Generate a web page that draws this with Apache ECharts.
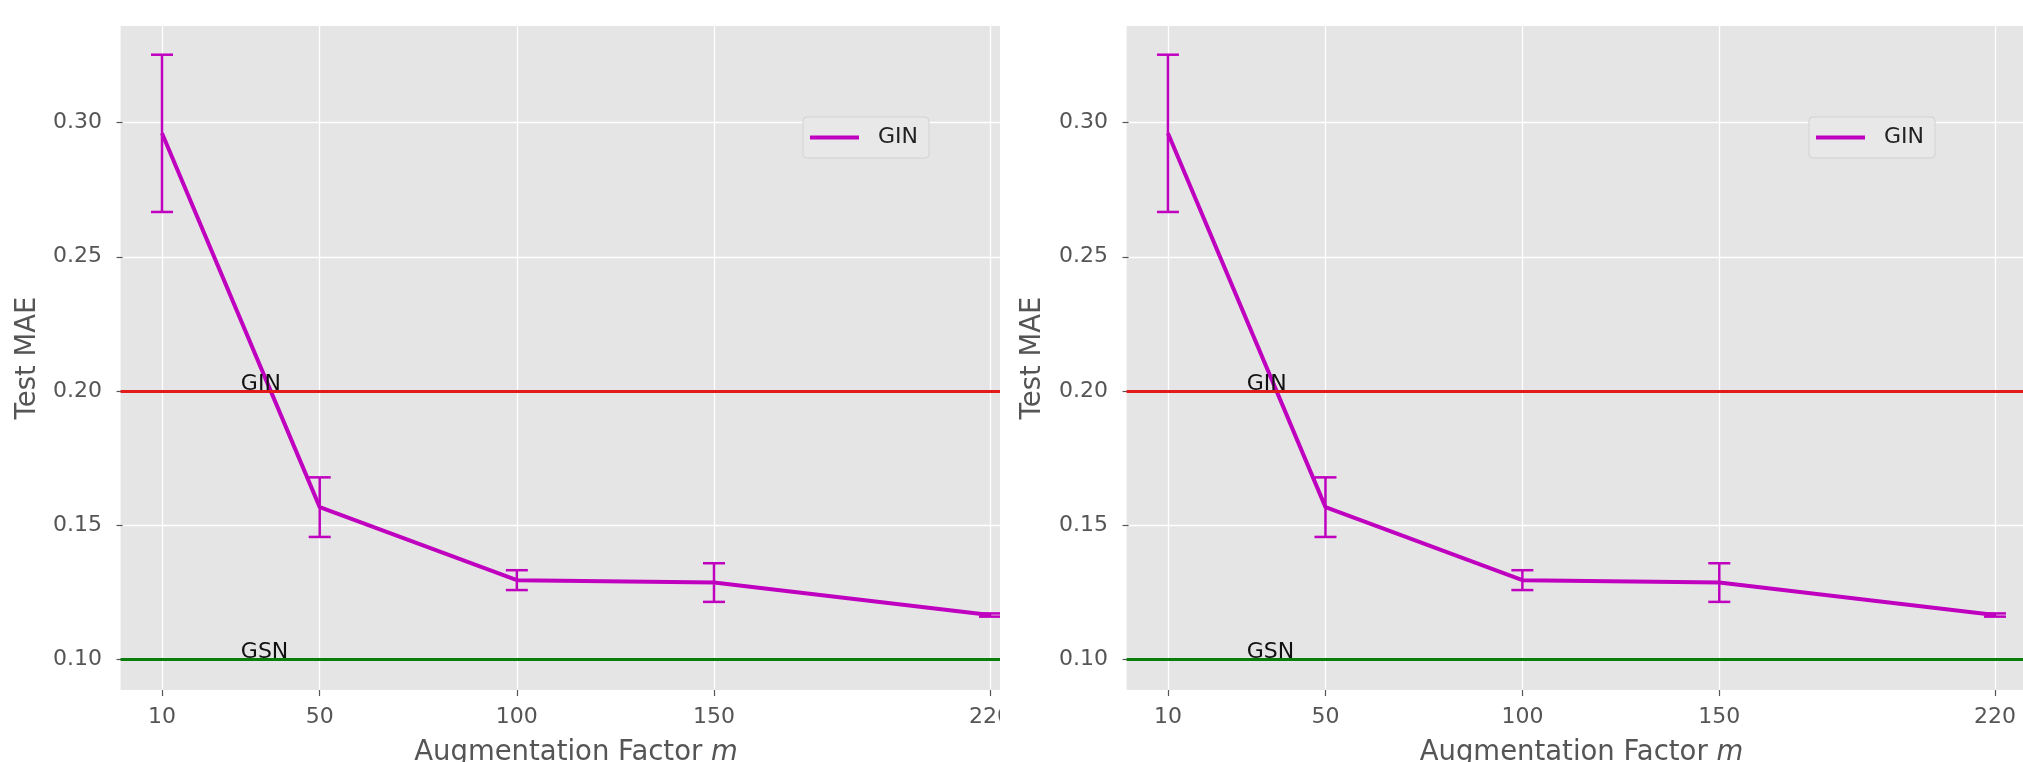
<!DOCTYPE html>
<html>
<head>
<meta charset="utf-8">
<script src="https://cdn.jsdelivr.net/npm/echarts@6/dist/echarts.min.js"></script>
<style>
html,body{margin:0;padding:0;background:#fff;}
#chart{width:2023px;height:762px;}
</style>
</head>
<body>
<div id="chart"></div>
<script>
// ---- data ----
const mValues = [10, 50, 100, 150, 220];
const maeMean = [0.296, 0.1567, 0.1295, 0.1286, 0.1165];
const maeErr = [0.0293, 0.0111, 0.0037, 0.0072, 0.0006];
const xTicks = [10, 50, 100, 150, 220];
const yTicks = [0.10, 0.15, 0.20, 0.25, 0.30];
const refNames = ['GIN', 'GSN'];
const refValues = [0.20, 0.10];
const refLabelX = [30, 30];
const seriesName = 'GIN';
const xTitle = 'Augmentation Factor {i|m}';
const yTitle = 'Test MAE';

const FONT = 'DejaVu Sans';
const MAG = '#BF00BF';
const refColors = ['#E31A1C', '#0B7D0B'];

const linePts = mValues.map((m, i) => [m, maeMean[i]]);
const errPts = mValues.map((m, i) => [m, maeMean[i] - maeErr[i], maeMean[i] + maeErr[i]]);
const annPts = refNames.map((n, i) => [refLabelX[i], refValues[i], n]);

const grids = [
  {left: 120.6, top: 26, width: 910.8, height: 664},
  {left: 1126.6, top: 26, width: 909.7, height: 664}
];

function xAxis(i) {
  return {
    gridIndex: i, type: 'value', min: -0.5, max: 230.5,
    axisLine: {show: false},
    axisTick: {show: true, customValues: xTicks, length: 6, lineStyle: {color: '#555', width: 1.2}},
    axisLabel: {customValues: xTicks, color: '#555', fontSize: 22, fontFamily: FONT, margin: 16},
    splitLine: {show: true, lineStyle: {color: '#fff', width: 1.3}},
    name: xTitle, nameLocation: 'middle', nameGap: 49,
    nameTextStyle: {color: '#555', fontSize: 27.5, fontFamily: FONT,
      rich: {i: {fontStyle: 'italic', color: '#555', fontSize: 27.5, fontFamily: FONT}}}
  };
}
function yAxis(i) {
  return {
    gridIndex: i, type: 'value', min: 0.08856, max: 0.336,
    axisLine: {show: false},
    axisTick: {show: true, customValues: yTicks, length: 6, lineStyle: {color: '#555', width: 1.2}},
    axisLabel: {customValues: yTicks, color: '#555', fontSize: 22, fontFamily: FONT, margin: 18.5,
      formatter: v => v.toFixed(2)},
    splitLine: {show: true, lineStyle: {color: '#fff', width: 1.3}}
  };
}

function errRender(params, api) {
  const x = api.value(0), lo = api.value(1), hi = api.value(2);
  const p1 = api.coord([x, lo]);
  const p2 = api.coord([x, hi]);
  const hw = 11;
  const st = {stroke: MAG, lineWidth: 2.5};
  return {type: 'group', children: [
    {type: 'line', shape: {x1: p1[0], y1: p1[1], x2: p2[0], y2: p2[1]}, style: st},
    {type: 'line', shape: {x1: p1[0] - hw, y1: p1[1], x2: p1[0] + hw, y2: p1[1]}, style: st},
    {type: 'line', shape: {x1: p2[0] - hw, y1: p2[1], x2: p2[0] + hw, y2: p2[1]}, style: st}
  ]};
}
function annRender(params, api) {
  const p = api.coord([api.value(0), api.value(1)]);
  return {type: 'text', x: p[0], y: p[1] + 4,
    style: {text: annPts[params.dataIndex][2], fill: '#111', font: '22px "' + FONT + '"',
      align: 'left', verticalAlign: 'bottom'}};
}

const series = [];
[0, 1].forEach(i => {
  series.push({
    name: seriesName, type: 'line', xAxisIndex: i, yAxisIndex: i,
    data: linePts, showSymbol: false, color: MAG,
    lineStyle: {color: MAG, width: 4}, z: 3, silent: true
  });
  series.push({
    name: seriesName, type: 'custom', xAxisIndex: i, yAxisIndex: i,
    data: errPts, encode: {x: 0, y: [1, 2]}, renderItem: errRender, z: 3, silent: true
  });
  series.push({
    name: 'ref', type: 'custom', xAxisIndex: i, yAxisIndex: i,
    data: annPts.map(a => [a[0], a[1]]), encode: {x: 0, y: 1}, renderItem: annRender, z: 5, silent: true,
    markLine: {
      silent: true, symbol: 'none', label: {show: false},
      data: refValues.map((v, k) => ({yAxis: v, lineStyle: {color: refColors[k], width: 3.2, type: 'solid'}}))
    }
  });
});

function legend(left) {
  return {
    left: left, top: 117, orient: 'horizontal', data: [seriesName],
    icon: 'rect', itemWidth: 49, itemHeight: 4,
    padding: [8, 11, 8, 7],
    backgroundColor: '#E8E8E8', borderColor: '#D2D2D2', borderWidth: 1, borderRadius: 4,
    textStyle: {color: '#222', fontSize: 22, fontFamily: FONT, lineHeight: 25, padding: [0, 0, 0, 14]},
    selectedMode: false
  };
}

const chart = echarts.init(document.getElementById('chart'), null, {renderer: 'canvas'});
chart.setOption({
  animation: false,
  backgroundColor: '#fff',
  textStyle: {fontFamily: FONT},
  grid: grids.map(g => Object.assign({show: true, backgroundColor: '#E5E5E5', borderWidth: 0,
    containLabel: false, outerBoundsMode: 'none'}, g)),
  xAxis: [xAxis(0), xAxis(1)],
  yAxis: [yAxis(0), yAxis(1)],
  legend: [legend(803), legend(1809)],
  series: series,
  graphic: [
    {type: 'rect', shape: {x: 1000, y: 0, width: 34, height: 762}, style: {fill: '#fff'}, z: 100},
    {type: 'text', x: 28, y: 358, rotation: Math.PI / 2, z: 101,
      style: {text: yTitle, fill: '#555', font: '27.5px "' + FONT + '"', align: 'center', verticalAlign: 'middle'}},
    {type: 'text', x: 1033, y: 358, rotation: Math.PI / 2, z: 101,
      style: {text: yTitle, fill: '#555', font: '27.5px "' + FONT + '"', align: 'center', verticalAlign: 'middle'}}
  ]
});
</script>
</body>
</html>
